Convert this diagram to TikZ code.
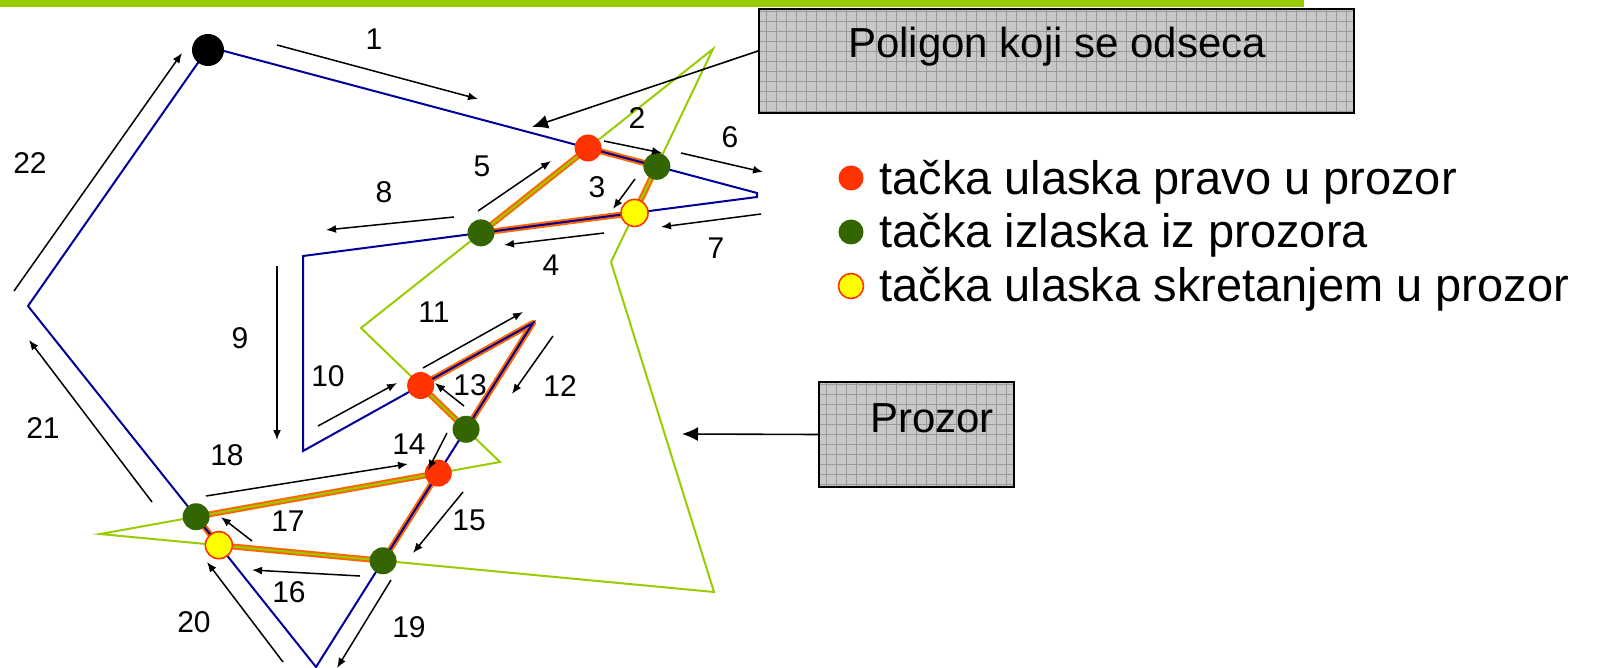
\documentclass[tikz,border=0pt]{standalone}
\usepackage{fontspec}
\setmainfont{Liberation Sans}
\usetikzlibrary{arrows.meta}

\definecolor{prozor}{HTML}{99CC00}
\definecolor{poligon}{HTML}{000099}
\definecolor{rez}{HTML}{FF6600}
\definecolor{ulaz}{HTML}{FF3300}
\definecolor{izlaz}{HTML}{336600}
\definecolor{skret}{HTML}{FFFF00}
\definecolor{kutija}{HTML}{C8C8C8}
\definecolor{mreza}{HTML}{9A9A9A}

\begin{document}
\begin{tikzpicture}[y=-.5pt, x=.5pt, font=\fontsize{15}{18}\selectfont,
	tok/.style={line width=.75pt, -{Latex[length=5pt,width=4pt]}},
	pokazivac/.style={line width=.8pt, -{Latex[length=8pt,width=7pt]}},
	rezultat/.style={draw=rez, line width=3pt, line join=round},
	tacka/.style={circle, inner sep=0pt, minimum size=13.5pt},
	ulazna/.style={tacka, fill=ulaz},
	izlazna/.style={tacka, fill=izlaz},
	skretna/.style={tacka, fill=skret, draw=ulaz, line width=.8pt},
	okvir/.style={draw=black, line width=1pt, fill=kutija, inner sep=0pt,
		path picture={\draw[mreza, line width=.4pt, step=5pt]
			(path picture bounding box.south west) grid (path picture bounding box.north east);}},
	legenda/.style={anchor=base west, inner sep=0pt, font=\fontsize{23.5}{28}\selectfont}]

	\useasboundingbox (0,0) rectangle (1606,668);
	\fill[prozor] (0,0) rectangle (1304,7);

	% window
	\coordinate (w1) at (713,49);
	\coordinate (w2) at (361,328);
	\coordinate (w3) at (500,462);
	\coordinate (w4) at (100,534);
	\coordinate (w5) at (714,592);
	\coordinate (w6) at (611,262);

	% polygon that gets clipped
	\coordinate (p1) at (209,47);
	\coordinate (p2) at (757,193);
	\coordinate (p3) at (757,197);
	\coordinate (p4) at (303,256);
	\coordinate (p5) at (303,451);
	\coordinate (p6) at (533,323);
	\coordinate (p7) at (316,667);
	\coordinate (p8) at (28,306);

	% crossing points
	\coordinate (u1) at (intersection of p1--p2 and w1--w2);
	\coordinate (i1) at (intersection of p1--p2 and w6--w1);
	\coordinate (s1) at (intersection of p3--p4 and w6--w1);
	\coordinate (i2) at (intersection of p3--p4 and w1--w2);
	\coordinate (u2) at (intersection of p5--p6 and w2--w3);
	\coordinate (i3) at (intersection of p6--p7 and w2--w3);
	\coordinate (u3) at (intersection of p6--p7 and w3--w4);
	\coordinate (i4) at (intersection of p7--p8 and w3--w4);
	\coordinate (s2) at (intersection of p7--p8 and w4--w5);
	\coordinate (i5) at (intersection of p6--p7 and w4--w5);

	\draw[rezultat] (u1) -- (i1) -- (s1) -- (i2) -- cycle;
	\draw[rezultat] (u2) -- (p6) -- (i3) -- cycle;
	\draw[rezultat] (u3) -- (i5) -- (s2) -- (i4) -- cycle;

	\draw[prozor, line width=1pt] (w1) -- (w2) -- (w3) -- (w4) -- (w5) -- (w6) -- cycle;
	\draw[poligon, line width=1pt] (p1) -- (p2) -- (p3) -- (p4) -- (p5) -- (p6) -- (p7) -- (p8) -- cycle;

	\node[tacka, fill=black, minimum size=16pt] (start) at (208,50) {};
	\node[ulazna] (U1) at (u1) {};
	\node[izlazna] (I1) at (i1) {};
	\node[skretna] (S1) at (s1) {};
	\node[izlazna] (I2) at (i2) {};
	\node[ulazna] (U2) at (u2) {};
	\node[izlazna] (I3) at (i3) {};
	\node[ulazna] (U3) at (u3) {};
	\node[izlazna] (I4) at (i4) {};
	\node[skretna] (S2) at (s2) {};
	\node[izlazna] (I5) at (i5) {};

	% walking order
	\draw[tok] (277,45) -- (478,99);
	\draw[tok] (604,141) -- (662,153);
	\draw[tok] (635,179) -- (613,209);
	\draw[tok] (604,233) -- (504,245);
	\draw[tok] (478,211) -- (551,161);
	\draw[tok] (681,153) -- (763,172);
	\draw[tok] (761,214) -- (661,227);
	\draw[tok] (454,217) -- (326,230);
	\draw[tok] (277,266) -- (277,440);
	\draw[tok] (318,426) -- (397,383);
	\draw[tok] (423,368) -- (523,312);
	\draw[tok] (553,336) -- (512,394);
	\draw[tok] (464,406) -- (435,383);
	\draw[tok] (447,433) -- (428,470);
	\draw[tok] (463,492) -- (413,553);
	\draw[tok] (360,576) -- (252,570);
	\draw[tok] (252,541) -- (221,517);
	\draw[tok] (206,496) -- (408,464);
	\draw[tok] (391,580) -- (337,668);
	\draw[tok] (283,662) -- (207,562);
	\draw[tok] (152,502) -- (29,340);
	\draw[tok] (14,291) -- (182,53);

	\node (n1) at (374,39) {1};
	\node (n2) at (637,118) {2};
	\node (n3) at (597,187) {3};
	\node (n4) at (551,265) {4};
	\node (n5) at (482,166) {5};
	\node (n6) at (730,137) {6};
	\node (n7) at (716,248) {7};
	\node (n8) at (384,192) {8};
	\node (n9) at (240,338) {9};
	\node (n10) at (328,376) {10};
	\node (n11) at (434,312) {11};
	\node (n12) at (560,386) {12};
	\node (n13) at (470,385) {13};
	\node (n14) at (409,444) {14};
	\node (n15) at (469,520) {15};
	\node (n16) at (289,592) {16};
	\node (n17) at (288,521) {17};
	\node (n18) at (227,455) {18};
	\node (n19) at (409,627) {19};
	\node (n20) at (194,622) {20};
	\node (n21) at (43,428) {21};
	\node (n22) at (30,163) {22};

	% labels in boxes
	\node[okvir, minimum width=297.5pt, minimum height=52pt] (bpol) at (1056.5,61) {};
	\node[anchor=base, font=\fontsize{21}{25}\selectfont] (tpol) at (1057,58) {Poligon koji se odseca};
	\coordinate (c1) at (532,127);
	\draw[pokazivac] ([yshift=5pt]bpol.west) -- (c1);

	\node[okvir, minimum width=97.5pt, minimum height=52.5pt] (bproz) at (916.5,434.5) {};
	\node[anchor=base, font=\fontsize{21}{25}\selectfont] (tproz) at (932,432) {Prozor};
	\coordinate (c2) at (682,434);
	\draw[pokazivac] (bproz.west) -- (c2);

	% legend
	\node[tacka, fill=ulaz, minimum size=12.5pt] (d1) at (851,178) {};
	\node[tacka, fill=izlaz, minimum size=12.5pt] (d2) at (851,232) {};
	\node[tacka, fill=skret, draw=ulaz, line width=.8pt, minimum size=12.5pt] (d3) at (851,286) {};
	\node[legenda] (l1) at (879,195) {tačka ulaska pravo u prozor};
	\node[legenda] (l2) at (879,248) {tačka izlaska iz prozora};
	\node[legenda] (l3) at (879,301) {tačka ulaska skretanjem u prozor};

\end{tikzpicture}
\end{document}
